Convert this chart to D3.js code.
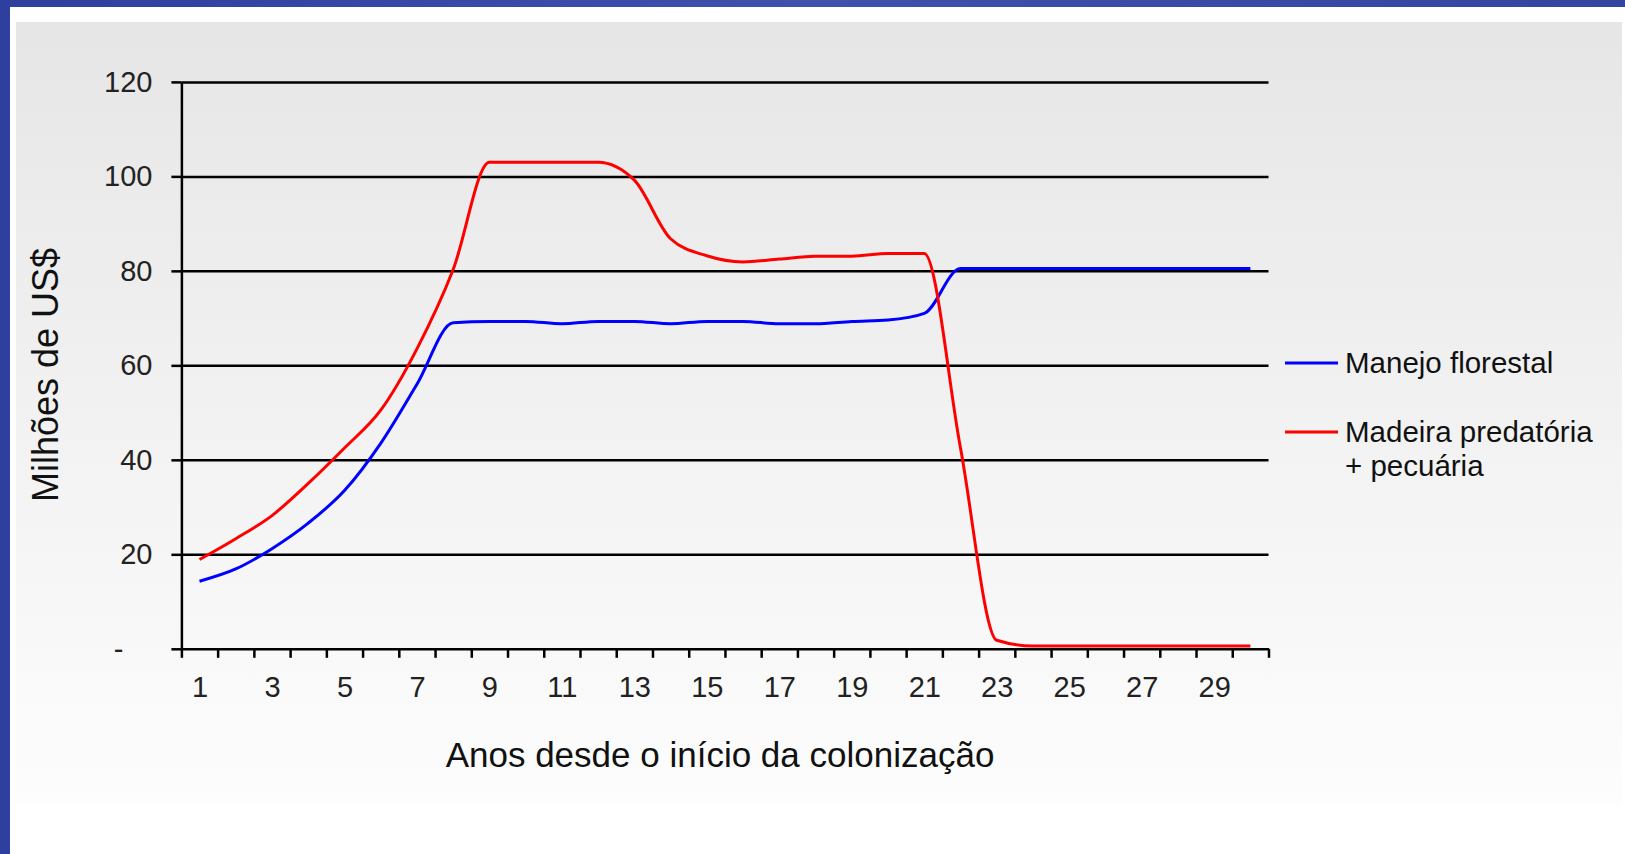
<!DOCTYPE html>
<html>
<head>
<meta charset="utf-8">
<script src="https://cdn.jsdelivr.net/npm/d3@7"></script>
<style>
  body { margin: 0; background: #fff; }
  text { font-family: "Liberation Sans", Arial, sans-serif; }
</style>
</head>
<body>
<div id="chart"></div>
<script>
const years = d3.range(1, 31);
const yTicks = [0, 20, 40, 60, 80, 100, 120];
const xLabels = [1, 3, 5, 7, 9, 11, 13, 15, 17, 19, 21, 23, 25, 27, 29];

// Manejo florestal
const manejo = [14.3, 16.9, 21.2, 26.6, 33.5, 43.5, 56.0, 69.0, 69.3, 69.3,
  68.8, 69.3, 69.3, 68.8, 69.3, 69.3, 68.8, 68.8, 69.3, 69.6,
  71.0, 80.5, 80.5, 80.5, 80.5, 80.5, 80.5, 80.5, 80.5, 80.5];

// Madeira predatória + pecuária
const madeira = [18.9, 23.3, 28.2, 35.0, 42.5, 50.5, 63.5, 80.3, 103, 103,
  103, 103, 99.2, 86.8, 83.2, 81.9, 82.5, 83.1, 83.1, 83.7,
  83.7, 42.5, 1.8, 0.6, 0.6, 0.6, 0.6, 0.6, 0.6, 0.6];

const series = [
  { name: ["Manejo florestal"], color: "#0000ff", values: manejo },
  { name: ["Madeira predatória", "+ pecuária"], color: "#ff0000", values: madeira }
];

const W = 1625, H = 854;
const plotL = 181.4, plotR = 1268.5, plotT = 81.9, plotB = 648.8;

const svg = d3.select("#chart").append("svg")
  .attr("width", W).attr("height", H);

// slide frame
const defs = svg.append("defs");
const bg = defs.append("linearGradient").attr("id", "bg")
  .attr("x1", 0).attr("y1", 0).attr("x2", 0).attr("y2", 1);
bg.append("stop").attr("offset", "0%").attr("stop-color", "#e6e6e6");
bg.append("stop").attr("offset", "100%").attr("stop-color", "#fdfdfd");

const blue = defs.append("linearGradient").attr("id", "blue")
  .attr("x1", 0).attr("y1", 0).attr("x2", 1).attr("y2", 0);
blue.append("stop").attr("offset", "0%").attr("stop-color", "#2f3f9e");
blue.append("stop").attr("offset", "50%").attr("stop-color", "#3f50ad");
blue.append("stop").attr("offset", "100%").attr("stop-color", "#34459f");

svg.append("rect").attr("x", 0).attr("y", 0).attr("width", W).attr("height", 7)
  .attr("fill", "url(#blue)");
svg.append("rect").attr("x", 0).attr("y", 0).attr("width", 10).attr("height", H)
  .attr("fill", "#2f3fa0");
svg.append("rect").attr("x", 16).attr("y", 22).attr("width", 1606).attr("height", 783)
  .attr("fill", "url(#bg)");

const y = d3.scaleLinear().domain([0, 120]).range([plotB, plotT]);
const xBand = d3.scaleBand().domain(years).range([plotL, plotR]);
const xc = d => xBand(d) + xBand.bandwidth() / 2;
const xEdge = d3.scaleLinear().domain([0.5, 30.5]).range([plotL, plotR]);

// gridlines
svg.append("g")
  .attr("transform", `translate(${plotL},0)`)
  .call(d3.axisRight(y).tickValues(yTicks.slice(1)).tickSize(plotR - plotL).tickFormat(""))
  .call(g => g.select(".domain").remove())
  .call(g => g.selectAll("line").attr("stroke", "#000").attr("stroke-width", 2.5));

// y axis
const yAxis = svg.append("g")
  .attr("transform", `translate(${plotL},0)`)
  .call(d3.axisLeft(y).tickValues(yTicks).tickSize(10).tickSizeOuter(0).tickPadding(19)
    .tickFormat(d => d === 0 ? "-" : d));
yAxis.select(".domain").attr("stroke", "#000").attr("stroke-width", 2.5);
yAxis.selectAll("line").attr("stroke", "#000").attr("stroke-width", 2.5);
yAxis.selectAll("text").attr("font-size", 29).attr("fill", "#222");
yAxis.selectAll(".tick").filter(d => d === 0).select("text").attr("x", -58);

// x axis ticks on category edges
const xAxis = svg.append("g")
  .attr("transform", `translate(0,${plotB})`)
  .call(d3.axisBottom(xEdge).tickValues(d3.range(0.5, 31, 1)).tickSize(9).tickSizeOuter(0).tickFormat(""));
xAxis.select(".domain").attr("stroke", "#000").attr("stroke-width", 2.5);
xAxis.selectAll("line").attr("stroke", "#000").attr("stroke-width", 2.5);

// x labels
const xLab = svg.append("g")
  .attr("transform", `translate(0,${plotB})`)
  .call(d3.axisBottom(d3.scaleLinear().domain([1, 30]).range([xc(1), xc(30)]))
    .tickValues(xLabels).tickSize(0).tickPadding(28).tickFormat(d3.format("d")));
xLab.select(".domain").remove();
xLab.selectAll("text").attr("font-size", 29).attr("fill", "#222");

// lines
const line = d3.line().x((d, i) => xc(years[i])).y(d => y(d)).curve(d3.curveMonotoneX);
series.forEach(s => {
  svg.append("path").datum(s.values)
    .attr("fill", "none")
    .attr("stroke", s.color)
    .attr("stroke-width", 3)
    .attr("d", line);
});

// axis titles
svg.append("text")
  .attr("x", 720).attr("y", 767)
  .attr("text-anchor", "middle")
  .attr("font-size", 35).attr("fill", "#111")
  .text("Anos desde o início da colonização");

svg.append("text")
  .attr("transform", "translate(58,375) rotate(-90)")
  .attr("text-anchor", "middle")
  .attr("font-size", 36).attr("fill", "#111")
  .text("Milhões de US$");

// legend
const legendY = [363, 432];
const legend = svg.append("g");
series.forEach((s, i) => {
  legend.append("line")
    .attr("x1", 1285).attr("x2", 1338)
    .attr("y1", legendY[i]).attr("y2", legendY[i])
    .attr("stroke", s.color).attr("stroke-width", 3);
  s.name.forEach((t, j) => {
    legend.append("text")
      .attr("x", 1345).attr("y", legendY[i] + 10 + j * 34)
      .attr("font-size", 29.5).attr("fill", "#111")
      .text(t);
  });
});
</script>
</body>
</html>
